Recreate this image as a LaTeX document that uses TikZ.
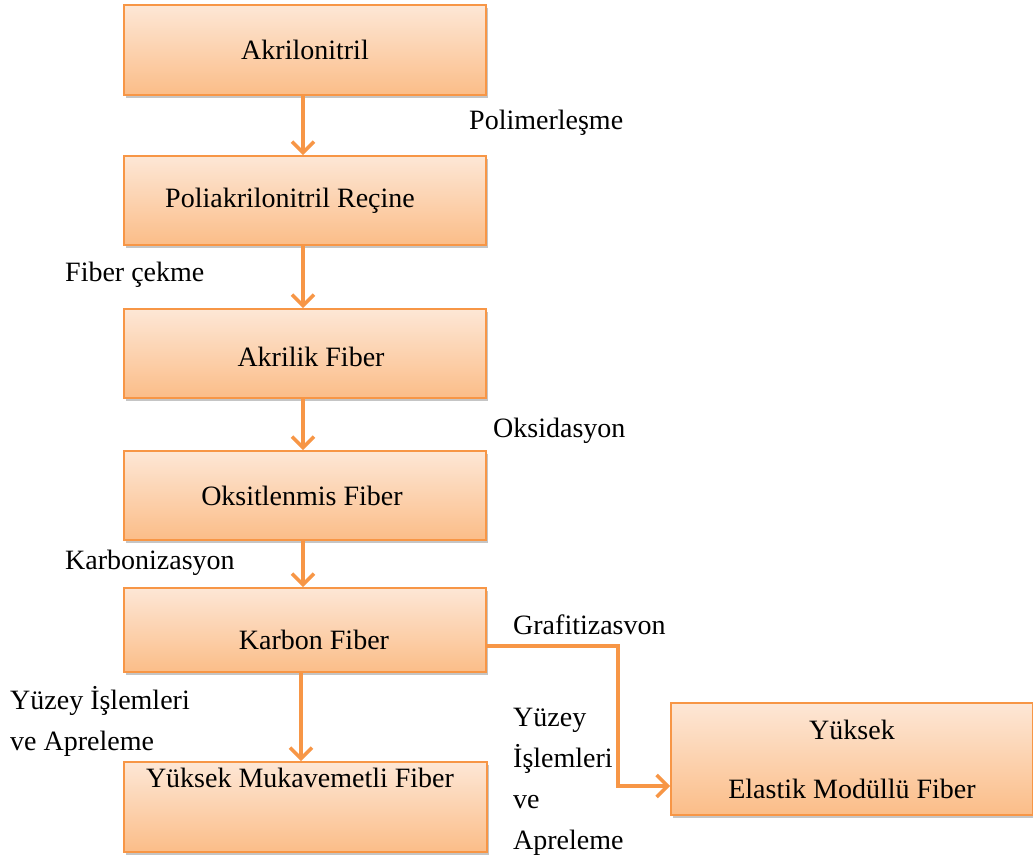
\documentclass[tikz,border=0pt]{standalone}
\usepackage{fontspec}
\setmainfont{Liberation Serif}
\usetikzlibrary{arrows.meta,shadows}
\definecolor{orng}{HTML}{F79646}
\definecolor{ptop}{HTML}{FDE7D6}
\definecolor{pbot}{HTML}{FBBD88}
\tikzset{
  box/.style={draw=orng, line width=1.6pt, top color=ptop, bottom color=pbot,
    minimum width=362pt, inner sep=0pt, font=\fontsize{28}{41}\selectfont, align=center,
    drop shadow={shadow xshift=2pt, shadow yshift=-3pt, fill=black!45, opacity=0.5}},
  lbl/.style={font=\fontsize{28}{41}\selectfont, inner sep=0pt, text height=19pt, text depth=6pt, anchor=west},
  mlbl/.style={font=\fontsize{28}{41}\selectfont, inner sep=0pt, align=left, anchor=west},
  arr/.style={draw=orng, line width=3.6pt, -{Straight Barb[length=11pt,width=22pt,line width=3.6pt]}}
}
\begin{document}
\begin{tikzpicture}[x=1pt,y=-1pt]
\useasboundingbox (0,0) rectangle (1033,861);
\node[box, minimum height=90pt] (b1) at (305,50) {Akrilonitril};
\node[box, minimum height=89pt] (b2) at (305,200.5) {Poliakrilonitril Reçine\hspace*{30pt}};
\node[box, minimum height=89pt] (b3) at (305,353.5) {\hspace*{12pt}\raisebox{-3pt}[\height][\depth]{Akrilik Fiber}};
\node[box, minimum height=89pt] (b4) at (305,495.5) {Oksitlenmis Fiber\hspace*{6pt}};
\node[box, minimum height=84pt] (b5) at (305,630) {\hspace*{18pt}\raisebox{-10pt}[\height][\depth]{Karbon Fiber}};
\node[box, minimum height=90pt, minimum width=363pt] (b6) at (305.5,807) {};
\node[font=\fontsize{28}{41}\selectfont, inner sep=0pt] (t6) at (300,778) {Yüksek Mukavemetli Fiber};
\node[box, minimum height=112pt] (b7) at (852,759) {Yüksek\\[18pt]Elastik Modüllü Fiber};
% labels
\node[lbl] (l1) at (469,123) {Polimerleşme};
\node[lbl] (l2) at (65,275) {Fiber çekme};
\node[lbl] (l3) at (493,431) {Oksidasyon};
\node[lbl] (l4) at (65,563) {Karbonizasyon};
\node[lbl] (l5) at (513,628) {Grafitizasvon};
\node[mlbl] (l6) at (10,721) {Yüzey İşlemleri\\ve Apreleme};
\node[mlbl] (l7) at (513,782) {Yüzey\\İşlemleri\\ve\\Apreleme};
% arrows
\draw[arr] ([xshift=-2pt]b1.south) -- ([xshift=-2pt]b2.north);
\draw[arr] ([xshift=-2pt]b2.south) -- ([xshift=-2pt]b3.north);
\draw[arr] ([xshift=-2pt]b3.south) -- ([xshift=-2pt]b4.north);
\draw[arr] ([xshift=-2pt]b4.south) -- ([xshift=-2pt]b5.north);
\draw[arr] ([xshift=-4pt]b5.south) -- ([xshift=-4.5pt]b6.north);
\draw[arr] ([yshift=-16pt]b5.east) -- ++(131pt,0) |- ([yshift=-27pt]b7.west);
\end{tikzpicture}
\end{document}
